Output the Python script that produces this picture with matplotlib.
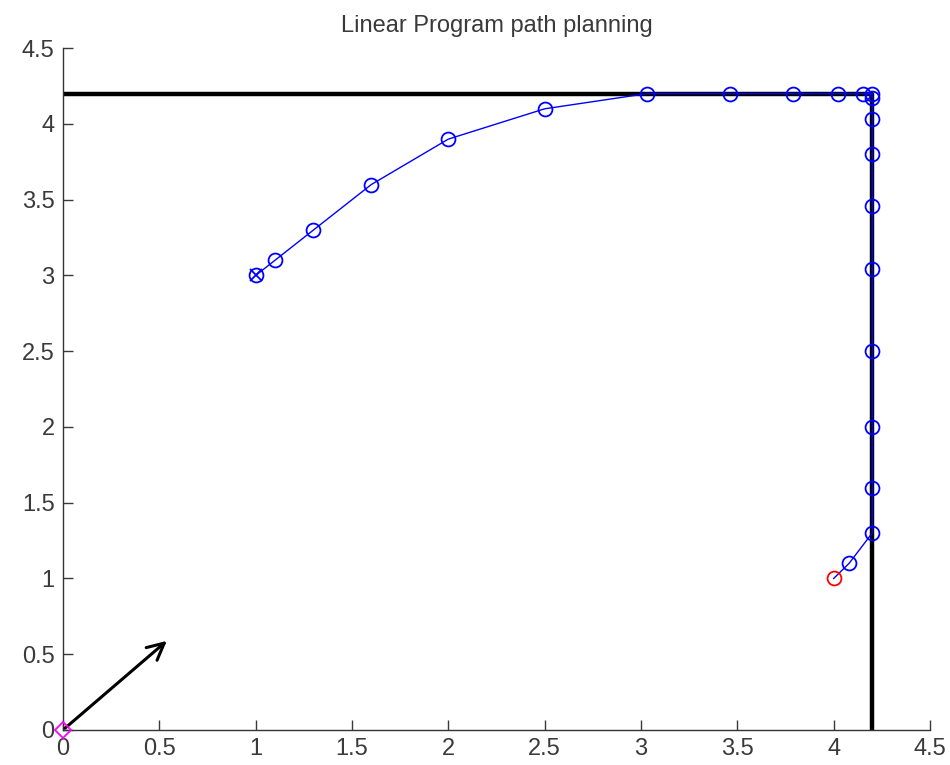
import matplotlib
matplotlib.use("Agg")
import matplotlib.pyplot as plt

plt.rcParams['font.family'] = ['Liberation Sans', 'DejaVu Sans']

# planned trajectory (start -> goal)
path_x = [1.0, 1.1, 1.3, 1.6, 2.0, 2.5, 3.03, 3.46, 3.79, 4.02, 4.15, 4.2,
          4.2, 4.2, 4.2, 4.2, 4.2, 4.2, 4.2, 4.2, 4.2, 4.08, 4.0]
path_y = [3.0, 3.1, 3.3, 3.6, 3.9, 4.1, 4.2, 4.2, 4.2, 4.2, 4.2, 4.2,
          4.17, 4.03, 3.8, 3.46, 3.04, 2.5, 2.0, 1.6, 1.3, 1.1, 1.0]
start = (1.0, 3.0)
goal = (4.0, 1.0)

# wall boundary
wall_x = [0.0, 4.2, 4.2]
wall_y = [4.2, 4.2, 0.0]

origin = (0.0, 0.0)
heading = (0.55, 0.6)

xticks = [0, 0.5, 1, 1.5, 2, 2.5, 3, 3.5, 4, 4.5]
yticks = [0, 0.5, 1, 1.5, 2, 2.5, 3, 3.5, 4, 4.5]

fig = plt.figure(figsize=(9.5, 7.65), dpi=100)
ax = fig.add_axes([0.0663, 0.0458, 0.9127, 0.8912])

ax.plot(path_x, path_y, '-o', color='#0000ff', lw=1.0, ms=10,
        mfc='none', mew=1.3, zorder=3, markevery=slice(0, len(path_x) - 1))
ax.plot(*start, 'x', color='#0000ff', ms=9, mew=1.3, zorder=3)
ax.plot(*goal, 'o', color='#ff0000', ms=10, mfc='none', mew=1.3, zorder=4)
ax.plot(wall_x, wall_y, color='black', lw=3.2, zorder=2, solid_capstyle='butt')
ax.plot(*origin, 'D', color='#ff00ff', ms=8, mfc='none', mew=1.3,
        clip_on=False, zorder=5)
ax.annotate('', xy=heading, xytext=origin,
            arrowprops=dict(arrowstyle='->', color='black', lw=2.2,
                            mutation_scale=30))

ax.set_xlim(0, 4.5)
ax.set_ylim(0, 4.5)
ax.set_xticks(xticks)
ax.set_yticks(yticks)
ax.set_xticklabels([f'{t:g}' for t in xticks])
ax.set_yticklabels([f'{t:g}' for t in yticks])
ax.tick_params(direction='in', length=7, width=1, labelsize=17,
               colors='#3a3a3a', pad=6)
for side in ['top', 'right']:
    ax.spines[side].set_visible(False)
for side in ['left', 'bottom']:
    ax.spines[side].set_color('#333333')
    ax.spines[side].set_linewidth(1.0)

ax.set_title('Linear Program path planning', fontsize=17, color='#3a3a3a', pad=12)

fig.savefig('out.png', dpi=100)
